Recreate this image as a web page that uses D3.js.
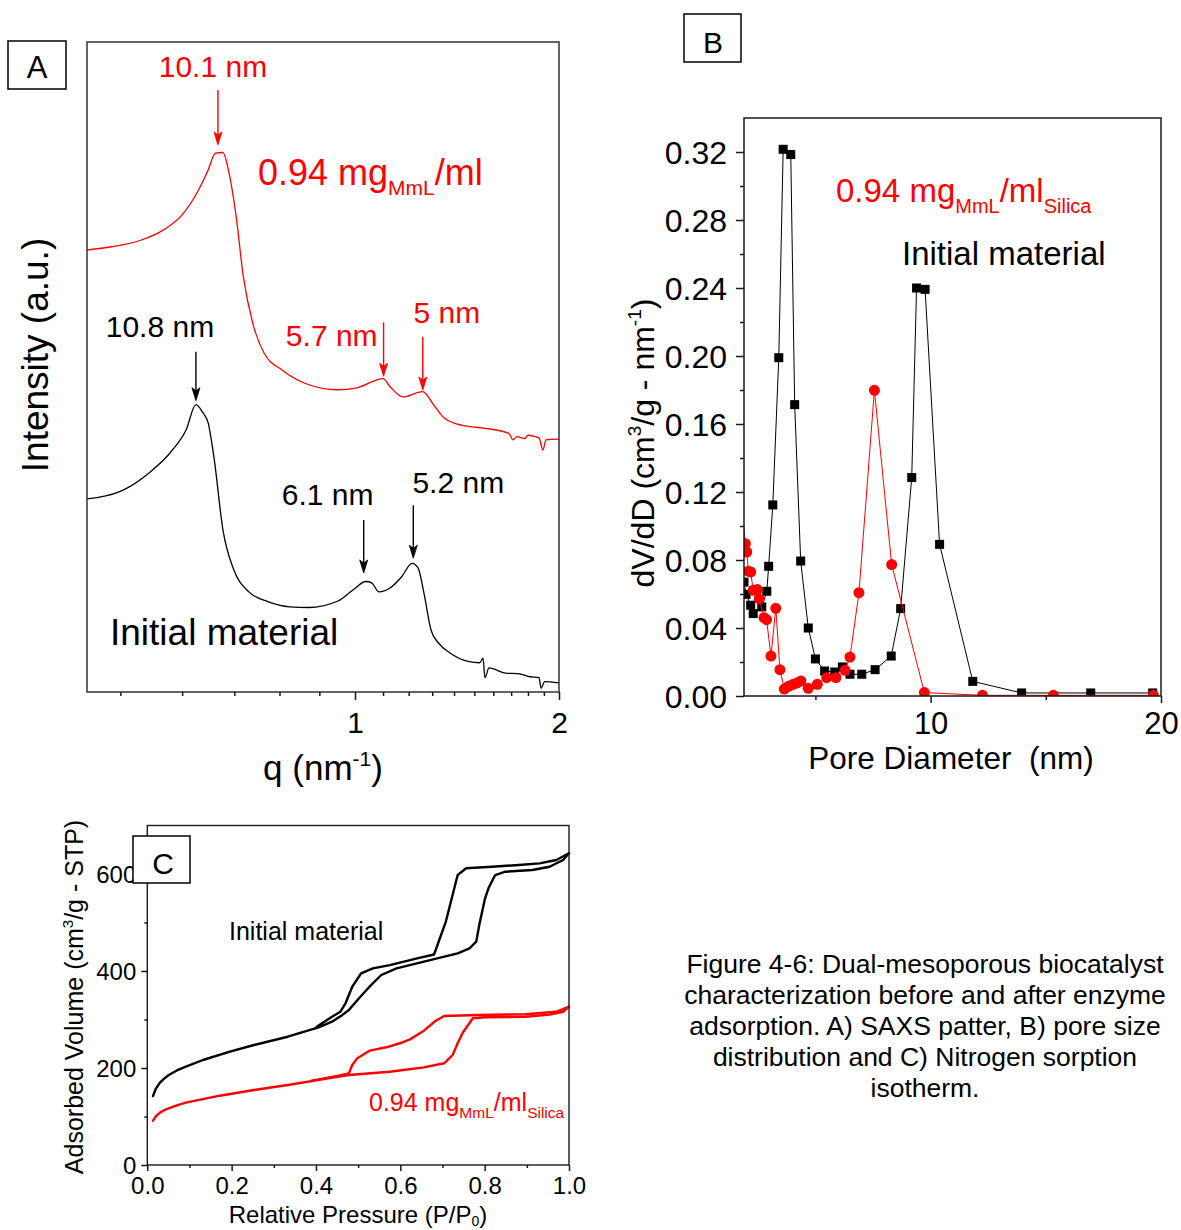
<!DOCTYPE html>
<html>
<head>
<meta charset="utf-8">
<script src="https://cdn.jsdelivr.net/npm/d3@7"></script>
<style>
html,body{margin:0;padding:0;background:#fff;}
svg{display:block;}
</style>
</head>
<body>
<svg id="fig" width="1181" height="1230"></svg>
<script>
// ================= DATA =================
// ---- Panel A : SAXS pattern (q in nm^-1, intensity in arbitrary units) ----
const saxsMmlQ = [0.453,0.487,0.531,0.568,0.600,0.627,0.648,0.662,0.677,0.688,0.704,0.719,0.739,0.764,0.807,0.862,0.951,1.007,1.100,1.126,1.177,1.258,1.312,1.353,1.398,1.488,1.545,1.687,1.710,1.734,1.780,1.800,1.844,1.869,1.894,1.913,2.0];
const saxsMmlI = [68.0,68.5,69.5,71.1,73.4,76.8,80.3,82.9,83.0,80.3,73.1,63.9,56.8,52.2,49.5,47.5,46.5,46.8,48.2,47.0,45.4,46.2,43.9,42.2,41.4,40.8,40.6,39.8,38.8,39.3,39.0,39.5,39.3,39.1,37.2,38.8,38.9];
const saxsInitQ = [0.453,0.498,0.514,0.544,0.581,0.607,0.625,0.637,0.648,0.659,0.677,0.699,0.731,0.773,0.825,0.872,0.951,0.994,1.038,1.058,1.085,1.126,1.171,1.214,1.239,1.264,1.295,1.329,1.381,1.468,1.527,1.545,1.555,1.577,1.668,1.750,1.800,1.869,1.882,1.905,2.0];
const saxsInitI = [29.7,30.8,31.6,33.7,37.0,40.3,44.2,43.1,41.4,36.2,24.9,18.8,15.4,13.9,13.1,13.0,14.0,15.7,17.0,16.8,15.4,16.0,17.7,19.8,19.1,15.2,9.5,7.5,6.0,4.7,4.5,5.2,2.2,3.7,2.9,2.8,2.4,2.2,0.6,1.6,1.4];
const saxsMajorTicks = [1, 2];
const saxsMinorTicks = [0.5,0.6,0.7,0.8,0.9,1.1,1.2,1.3,1.4,1.5,1.6,1.7,1.8,1.9];
const peakLabels = ["10.1 nm","10.8 nm","5.7 nm","5 nm","6.1 nm","5.2 nm"];
const peakQ      = [0.667, 0.625, 1.102, 1.259, 1.030, 1.219];
const peakSeries = ["mml","init","mml","mml","init","init"];

// ---- Panel B : pore size distribution (nm, cm3/g-nm) ----
const psdInitD = [1.90,1.99,2.19,2.30,2.67,2.89,2.97,3.15,3.41,3.60,3.93,4.10,4.36,4.69,5.00,5.40,5.84,6.17,6.50,7.01,7.59,8.29,8.70,9.18,9.39,9.76,10.39,11.83,13.95,16.95,19.64];
const psdInitV = [0.067,0.0598,0.0534,0.0485,0.0524,0.0616,0.0763,0.1124,0.199,0.3216,0.3185,0.1714,0.0794,0.040,0.0218,0.0147,0.0141,0.0171,0.0128,0.0128,0.0155,0.0235,0.0514,0.1285,0.240,0.2392,0.0892,0.0086,0.0018,0.0018,0.0018];
const psdMmlD = [1.5,1.96,2.02,2.09,2.19,2.30,2.48,2.56,2.77,2.88,3.07,3.28,3.46,3.65,3.83,4.01,4.19,4.37,4.69,5.08,5.49,5.89,6.29,6.50,6.89,7.56,8.31,9.73,12.25,15.33,19.67];
const psdMmlV = [0.16,0.0896,0.0847,0.0734,0.073,0.0622,0.0626,0.0571,0.0461,0.0449,0.0235,0.0516,0.0155,0.0041,0.0057,0.0067,0.0076,0.0088,0.0045,0.0069,0.0108,0.0108,0.0151,0.0229,0.0608,0.1798,0.0773,0.0020,0.0004,0.0004,0.0004];
const psdXMajor = [10, 20];
const psdXMinor = [5, 15];
const psdYMajor = [0,0.04,0.08,0.12,0.16,0.20,0.24,0.28,0.32];
const psdYMinor = [0.02,0.06,0.10,0.14,0.18,0.22,0.26,0.30];

// ---- Panel C : nitrogen sorption isotherms (P/P0, cm3/g STP) ----
const isoInitAdsP = [0.0135,0.02,0.03,0.04,0.051,0.07,0.0915,0.132,0.196,0.253,0.333,0.406,0.438,0.462,0.478,0.502,0.527,0.555,0.591,0.656,0.736,0.764,0.780,0.788,0.801,0.809,0.825,0.849,0.913,0.954,0.986,1.0];
const isoInitAdsV = [142,157,170,178,185.6,195,202.7,216.5,233.6,247.4,264.5,283.9,295.5,309,319.6,343.7,367.6,391.8,405.5,419.2,436.4,446.7,460.4,498.3,549.9,570.5,597.9,604.7,608.2,615,628.9,642.7];
const isoInitDesP = [1.0,0.970,0.930,0.881,0.817,0.756,0.736,0.708,0.680,0.640,0.575,0.535,0.507,0.486,0.470,0.458,0.438,0.402];
const isoInitDesV = [642.7,628.9,622,618.6,615,611.8,598,502,434,426,412,405.5,395,367.6,333.4,316,305.8,285];
const isoMmlAdsP = [0.0135,0.02,0.03,0.04,0.051,0.07,0.0915,0.172,0.253,0.333,0.414,0.478,0.575,0.656,0.704,0.724,0.736,0.748,0.772,0.801,0.897,0.954,0.986,1.0];
const isoMmlAdsV = [91.4,100,108,113,117,123,128.5,142.9,154.6,165,176.6,185.6,192.4,201.4,209.7,226.8,250.9,272.8,302.5,304.5,305.8,310,316,326.4];
const isoMmlDesP = [1.0,0.970,0.897,0.784,0.704,0.684,0.656,0.623,0.599,0.567,0.527,0.498,0.486,0.478,0.454,0.390];
const isoMmlDesV = [326.4,316,310.7,309.3,307.2,297.5,277,259,251,242.7,235.7,220,206.2,189,184.1,173.8];
const isoXMajor = [0,0.2,0.4,0.6,0.8,1.0];
const isoXMinor = [0.1,0.3,0.5,0.7,0.9];
const isoYMajor = [0,200,400,600];
const isoYMinor = [100,300,500];

const captionLines = [
  "Figure 4-6: Dual-mesoporous biocatalyst",
  "characterization before and after enzyme",
  "adsorption. A) SAXS patter, B) pore size",
  "distribution and C) Nitrogen sorption",
  "isotherm."
];

// ================= DRAWING =================
const FONT = '"Liberation Sans", Arial, Helvetica, sans-serif';
const RED = "#ff0000", BLK = "#000000", AX = "#1a1a1a";
const svg = d3.select("#fig");
svg.append("rect").attr("width",1181).attr("height",1230).attr("fill","#fff");
const defs = svg.append("defs");

function txt(parent, x, y, size, color, anchor, parts, transform) {
  const t = parent.append("text")
    .attr("font-family", FONT).attr("font-size", size).attr("fill", color)
    .attr("text-anchor", anchor).style("white-space", "pre");
  if (transform) t.attr("transform", transform); else t.attr("x", x).attr("y", y);
  parts.forEach(p => {
    const s = t.append("tspan").text(p.t);
    if (p.s) s.attr("font-size", p.s);
    if (p.dy) s.attr("dy", p.dy);
  });
  return t;
}

function addAxis(parent, orient, scale, pos, values, size, fmt, fs, off) {
  const gen = (orient === "bottom" ? d3.axisBottom : d3.axisLeft)(scale)
    .tickValues(values).tickSizeInner(size).tickSizeOuter(0)
    .tickFormat(fmt ? fmt : () => "");
  const g = parent.append("g")
    .attr("transform", orient === "bottom" ? `translate(0,${pos})` : `translate(${pos},0)`)
    .call(gen);
  g.select(".domain").remove();
  g.selectAll("line").attr("stroke", AX).attr("stroke-width", 1.5);
  g.selectAll("text").attr("font-family", FONT).attr("font-size", fs).attr("fill", BLK);
  if (orient === "bottom") g.selectAll("text").attr("y", off).attr("dy", null);
  else g.selectAll("text").attr("x", -off).attr("dy", "0.35em");
  return g;
}

function labelBox(x, y, w, h, letter, lx, ly, fs) {
  svg.append("rect").attr("x", x).attr("y", y).attr("width", w).attr("height", h)
    .attr("fill", "#fff").attr("stroke", BLK).attr("stroke-width", 1.5);
  txt(svg, lx, ly, fs, BLK, "middle", [{t: letter}]);
}

// ---------- Panel A ----------
{
  const x = d3.scaleLog().domain([0.453, 1, 2]).range([87, 355, 559]);
  const y = d3.scaleLinear().domain([0, 100]).range([692, 42]);
  const g = svg.append("g");
  defs.append("clipPath").attr("id", "clipA").append("rect")
    .attr("x", 87).attr("y", 42).attr("width", 472).attr("height", 650);
  const line = d3.line().x(d => x(d[0])).y(d => y(d[1])).curve(d3.curveMonotoneX);
  const series = {
    mml: d3.zip(saxsMmlQ, saxsMmlI),
    init: d3.zip(saxsInitQ, saxsInitI)
  };
  const plot = g.append("g").attr("clip-path", "url(#clipA)");
  plot.append("path").datum(series.init).attr("d", line).attr("fill", "none")
    .attr("stroke", BLK).attr("stroke-width", 1.3).attr("stroke-linejoin", "round");
  plot.append("path").datum(series.mml).attr("d", line).attr("fill", "none")
    .attr("stroke", RED).attr("stroke-width", 1.3).attr("stroke-linejoin", "round");

  // frame
  g.append("rect").attr("x", 87).attr("y", 42).attr("width", 472).attr("height", 650)
    .attr("fill", "none").attr("stroke", "#333").attr("stroke-width", 1.5);
  addAxis(g, "bottom", x, 692, saxsMajorTicks, 8, d3.format("d"), 30, 41);
  addAxis(g, "bottom", x, 692, saxsMinorTicks, 4, null, 30, 41);

  // peak annotations
  const layout = [
    {gap: 8,  len: 55, dx: -5,  dy: -13, anchor: "middle"},
    {gap: 4,  len: 49, dx: -36, dy: -15, anchor: "middle"},
    {gap: 3,  len: 54, dx: -6,  dy: 24,  anchor: "end"},
    {gap: 2,  len: 53, dx: 24,  dy: -14, anchor: "middle"},
    {gap: 10, len: 53, dx: -36, dy: -15, anchor: "middle"},
    {gap: 6,  len: 53, dx: 45,  dy: -12, anchor: "middle"}
  ];
  function curvePx(pts, q) {
    const i = Math.max(1, d3.bisector(d => d[0]).left(pts, q));
    const a = pts[i - 1], b = pts[i];
    const xa = x(a[0]), xb = x(b[0]), xq = x(q);
    const t = (xq - xa) / (xb - xa);
    return y(a[1]) + t * (y(b[1]) - y(a[1]));
  }
  peakLabels.forEach((lab, i) => {
    const L = layout[i];
    const col = peakSeries[i] === "mml" ? RED : BLK;
    const px = x(peakQ[i]);
    const tip = curvePx(series[peakSeries[i]], peakQ[i]) - L.gap;
    const tail = tip - L.len;
    g.append("line").attr("x1", px).attr("x2", px).attr("y1", tail).attr("y2", tip - 8)
      .attr("stroke", col).attr("stroke-width", 1.4);
    g.append("path").attr("d", `M${px},${tip} L${px - 4},${tip - 13} L${px},${tip - 10} L${px + 4},${tip - 13} Z`)
      .attr("fill", col).attr("stroke", col).attr("stroke-width", 0.8);
    txt(g, px + L.dx, tail + L.dy, 30, col, L.anchor, [{t: lab}]);
  });

  txt(g, 258, 185, 36, RED, "start",
    [{t: "0.94 mg"}, {t: "MmL", s: 21, dy: 10}, {t: "/ml", s: 36, dy: -10}]);
  txt(g, 110, 645, 37, BLK, "start", [{t: "Initial material"}]);
  txt(g, 0, 0, 37, BLK, "middle", [{t: "Intensity (a.u.)"}], "translate(48,355) rotate(-90)");
  txt(g, 323, 780, 35, BLK, "middle",
    [{t: "q (nm"}, {t: "-1", s: 21, dy: -14}, {t: ")", s: 35, dy: 14}]);
  labelBox(8, 41, 58, 48, "A", 37, 78, 31);
}

// ---------- Panel B ----------
{
  const x = d3.scaleLinear().domain([1.9, 20]).range([744, 1161]);
  const y = d3.scaleLinear().domain([0, 0.34]).range([696, 118]);
  const g = svg.append("g");
  defs.append("clipPath").attr("id", "clipB").append("rect")
    .attr("x", 744).attr("y", 118).attr("width", 417).attr("height", 578);
  const plot = g.append("g").attr("clip-path", "url(#clipB)");
  const line = d3.line().x(d => x(d[0])).y(d => y(d[1]));
  const init = d3.zip(psdInitD, psdInitV);
  const mml = d3.zip(psdMmlD, psdMmlV);
  plot.append("path").datum(init).attr("d", line).attr("fill", "none")
    .attr("stroke", BLK).attr("stroke-width", 1);
  plot.selectAll("rect.sq").data(init).enter().append("rect").attr("class", "sq")
    .attr("x", d => x(d[0]) - 4.5).attr("y", d => y(d[1]) - 4.5)
    .attr("width", 9).attr("height", 9).attr("fill", BLK);
  plot.append("path").datum(mml).attr("d", line).attr("fill", "none")
    .attr("stroke", RED).attr("stroke-width", 1);
  plot.selectAll("circle.ci").data(mml.filter(d => d[0] >= x.domain()[0])).enter()
    .append("circle").attr("class", "ci")
    .attr("cx", d => x(d[0])).attr("cy", d => y(d[1])).attr("r", 5.5).attr("fill", RED);

  g.append("rect").attr("x", 744).attr("y", 118).attr("width", 417).attr("height", 578)
    .attr("fill", "none").attr("stroke", AX).attr("stroke-width", 1.5);
  addAxis(g, "bottom", x, 696, psdXMajor, 7, d3.format("d"), 31, 38);
  addAxis(g, "bottom", x, 696, psdXMinor, 4, null, 31, 38);
  addAxis(g, "left", y, 744, psdYMajor, 8, d3.format(".2f"), 32, 17);
  addAxis(g, "left", y, 744, psdYMinor, 4, null, 32, 17);

  txt(g, 836, 202, 33, RED, "start",
    [{t: "0.94 mg"}, {t: "MmL", s: 20, dy: 11}, {t: "/ml", s: 33, dy: -11}, {t: "Silica", s: 20, dy: 11}]);
  txt(g, 902, 265, 33, BLK, "start", [{t: "Initial material"}]);
  txt(g, 951, 769, 31.5, BLK, "middle", [{t: "Pore Diameter  (nm)"}]);
  txt(g, 0, 0, 32, BLK, "middle",
    [{t: "dV/dD (cm"}, {t: "3", s: 19, dy: -13}, {t: "/g - nm", s: 32, dy: 13},
     {t: "-1", s: 19, dy: -13}, {t: ")", s: 32, dy: 13}],
    "translate(654,443) rotate(-90)");
  labelBox(684, 14, 57, 48, "B", 713, 53, 30);
}

// ---------- Panel C ----------
{
  const x = d3.scaleLinear().domain([0, 1]).range([147.3, 569]);
  const y = d3.scaleLinear().domain([0, 700]).range([1165, 825.5]);
  const g = svg.append("g");
  const line = d3.line().x(d => x(d[0])).y(d => y(d[1]));
  const curves = [
    [d3.zip(isoInitAdsP, isoInitAdsV), BLK],
    [d3.zip(isoInitDesP, isoInitDesV), BLK],
    [d3.zip(isoMmlAdsP, isoMmlAdsV), RED],
    [d3.zip(isoMmlDesP, isoMmlDesV), RED]
  ];
  curves.forEach(([pts, col]) => {
    g.append("path").datum(pts).attr("d", line).attr("fill", "none")
      .attr("stroke", col).attr("stroke-width", 2.4).attr("stroke-linejoin", "round")
      .attr("stroke-linecap", "round");
  });
  g.append("rect").attr("x", 147.3).attr("y", 825.5).attr("width", 421.7).attr("height", 339.5)
    .attr("fill", "none").attr("stroke", AX).attr("stroke-width", 1.4);
  addAxis(g, "bottom", x, 1165, isoXMajor, 6, d3.format(".1f"), 24, 29);
  addAxis(g, "bottom", x, 1165, isoXMinor, 3, null, 24, 29);
  addAxis(g, "left", y, 147.3, isoYMajor, 6, d3.format("d"), 24, 11);
  addAxis(g, "left", y, 147.3, isoYMinor, 3, null, 24, 11);

  txt(g, 229, 940, 25, BLK, "start", [{t: "Initial material"}]);
  txt(g, 369, 1111, 25, RED, "start",
    [{t: "0.94 mg"}, {t: "MmL", s: 15.5, dy: 7}, {t: "/ml", s: 25, dy: -7}, {t: "Silica", s: 15.5, dy: 7}]);
  txt(g, 358, 1223, 24, BLK, "middle",
    [{t: "Relative Pressure (P/P"}, {t: "0", s: 14, dy: 3}, {t: ")", s: 24, dy: -3}]);
  txt(g, 0, 0, 25, BLK, "middle",
    [{t: "Adsorbed Volume (cm"}, {t: "3", s: 15, dy: -10}, {t: "/g - STP)", s: 25, dy: 10}],
    "translate(83,997) rotate(-90)");
  labelBox(133, 836, 57, 47, "C", 163, 874, 30);
}

// ---------- Caption ----------
captionLines.forEach((s, i) => {
  txt(svg, 925, 973 + i * 31, 26.5, BLK, "middle", [{t: s}]);
});
</script>
</body>
</html>
